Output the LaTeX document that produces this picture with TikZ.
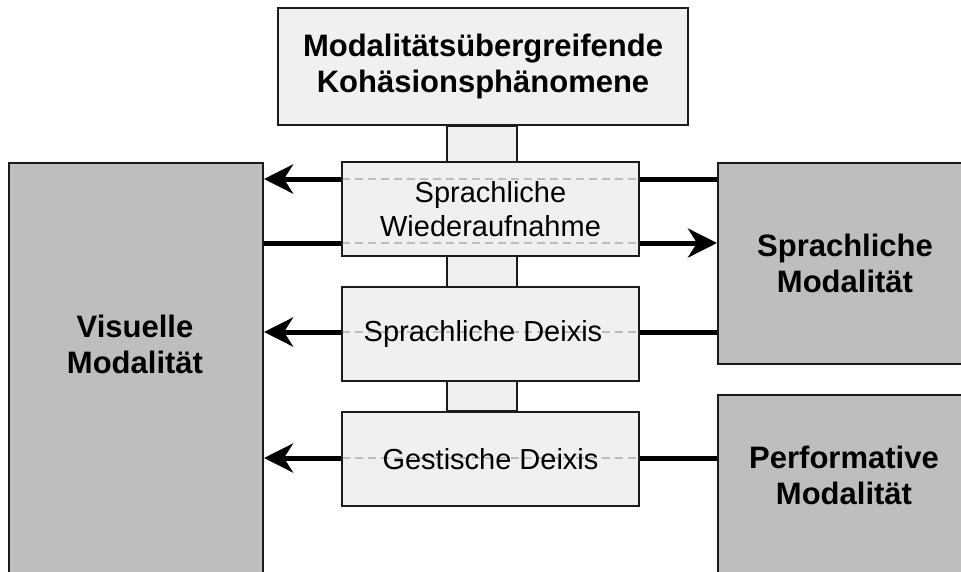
\documentclass[tikz,border=0pt]{standalone}
\usepackage{fontspec}
\setmainfont{Liberation Sans}
\usetikzlibrary{arrows.meta,backgrounds}
\definecolor{lightfill}{HTML}{F0F0F0}
\definecolor{darkfill}{HTML}{BEBEBE}
\definecolor{dashgray}{HTML}{BDBDBD}
\definecolor{edgecol}{HTML}{1A1A1A}
\begin{document}
\begin{tikzpicture}[x=1pt,y=-1pt,
  box/.style={draw=edgecol, line width=2pt, rectangle, inner sep=0pt, align=center},
  lightbox/.style={box, fill=lightfill},
  darkbox/.style={box, fill=darkfill},
  boldtext/.style={font=\bfseries\fontsize{31}{36}\selectfont, align=center, inner sep=0pt},
  midtext/.style={font=\fontsize{29}{34}\selectfont},
  midbox/.style={lightbox, midtext, minimum width=297pt, minimum height=94pt},
  dashline/.style={draw=dashgray, line width=1.5pt, dash pattern=on 8pt off 5pt},
  flow/.style={draw=black, line width=5pt},
  tipflow/.style={flow, -{Stealth[length=29pt,width=29pt,inset=9pt]}},
  dashat/.style={path picture={
    \draw[dashline] ([yshift=#1]path picture bounding box.west) -- ([yshift=#1]path picture bounding box.east);}}
]
\useasboundingbox (0,0) rectangle (961,571);
\clip (0,0) rectangle (961,571);

% top box
\node[lightbox, boldtext, minimum width=410pt, minimum height=117pt] (T) at (483,66.5)
  {Modalitätsübergreifende\\Kohäsionsphänomene};

% middle boxes
\node[midbox, path picture={
    \draw[dashline] ([yshift=30pt]path picture bounding box.west) -- ([yshift=30pt]path picture bounding box.east);
    \draw[dashline] ([yshift=-34pt]path picture bounding box.west) -- ([yshift=-34pt]path picture bounding box.east);
  }] (B1) at (490.5,209) {Sprachliche\\Wiederaufnahme};
\node[midbox, dashat=2pt] (B2) at (490.5,334) {Sprachliche Deixis\hspace*{15pt}};
\node[midbox, dashat=1pt] (B3) at (490.5,459) {Gestische Deixis};

% side boxes
\node[darkbox, minimum width=254pt, minimum height=430pt, anchor=north west] (V) at (8,162) {};
\node[boldtext] (Vt) at (135,344) {Visuelle\\Modalität};
\node[darkbox, boldtext, minimum width=254pt, minimum height=201pt, anchor=north west] (S) at (717,162)
  {Sprachliche\\Modalität};
\node[darkbox, minimum width=254pt, minimum height=220pt, anchor=north west] (P) at (717,394) {};
\node[boldtext] (Pt) at (844,475) {Performative\\Modalität};

% connecting strip behind the middle boxes
\begin{scope}[on background layer]
  \draw[draw=edgecol, line width=2pt, fill=lightfill] (T.south -| 447,0) rectangle (B3.north -| 517,0);
\end{scope}

% connectors
\draw[flow] (S.west |- 0,179) -- (B1.east |- 0,179);
\draw[tipflow] (B1.west |- 0,179) -- (V.east |- 0,179);
\draw[flow] (V.east |- 0,243) -- (B1.west |- 0,243);
\draw[tipflow] (B1.east |- 0,243) -- (S.west |- 0,243);
\draw[flow] (S.west |- 0,332) -- (B2.east |- 0,332);
\draw[tipflow] (B2.west |- 0,332) -- (V.east |- 0,332);
\draw[flow] (P.west |- 0,458) -- (B3.east |- 0,458);
\draw[tipflow] (B3.west |- 0,458) -- (V.east |- 0,458);
\end{tikzpicture}
\end{document}
